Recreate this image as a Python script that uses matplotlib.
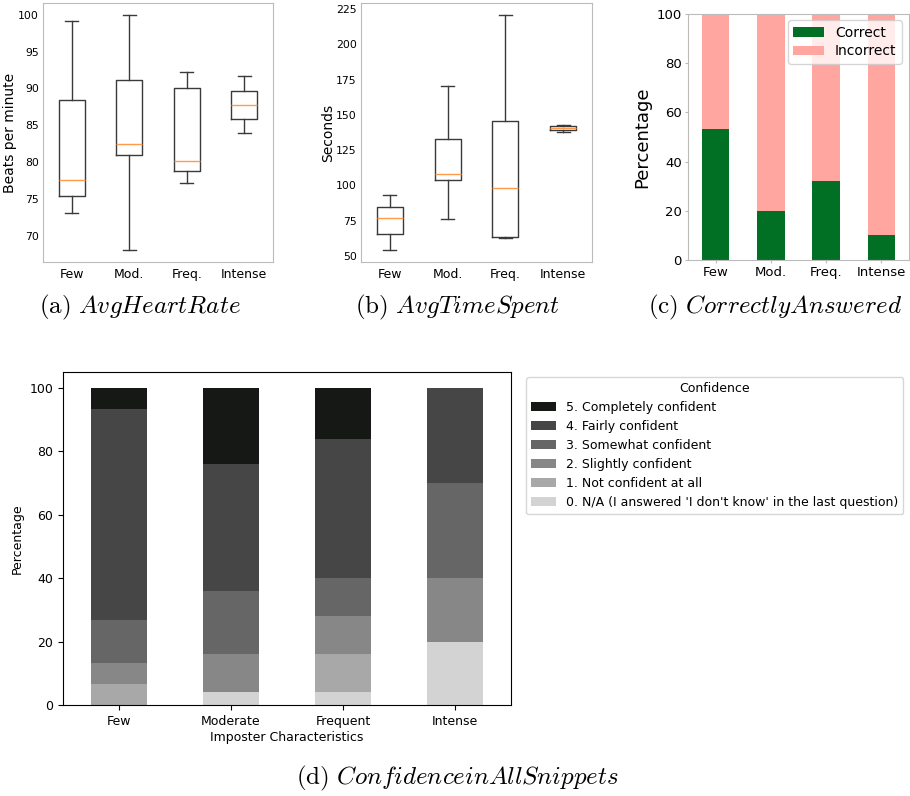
import matplotlib
matplotlib.use("Agg")
import matplotlib.pyplot as plt
import numpy as np

plt.rcParams["mathtext.fontset"] = "cm"

groups_short = ["Few", "Mod.", "Freq.", "Intense"]
groups_long = ["Few", "Moderate", "Frequent", "Intense"]

# box stats: low whisker, q1, median, q3, high whisker
heart_lo = [73.1, 68.0, 77.2, 83.9]
heart_q1 = [75.4, 80.9, 78.7, 85.9]
heart_med = [77.6, 82.4, 80.1, 87.8]
heart_q3 = [88.4, 91.1, 90.0, 89.7]
heart_hi = [99.2, 100.0, 92.2, 91.7]

time_lo = [54.0, 76.0, 62.5, 137.7]
time_q1 = [65.2, 103.6, 63.5, 139.1]
time_med = [76.7, 107.9, 98.4, 140.5]
time_q3 = [84.9, 133.2, 145.9, 142.0]
time_hi = [93.3, 170.7, 221.0, 143.0]

correct = [53.33, 20.0, 32.0, 10.0]
incorrect = [100 - c for c in correct]

conf_labels = ["0. N/A (I answered 'I don't know' in the last question)",
               "1. Not confident at all", "2. Slightly confident",
               "3. Somewhat confident", "4. Fairly confident",
               "5. Completely confident"]
conf_colors = ["#d3d3d3", "#a8a8a8", "#878787", "#666666", "#464646", "#161816"]
conf_na = [0.0, 4.0, 4.0, 20.0]
conf_1 = [6.67, 0.0, 12.0, 0.0]
conf_2 = [6.67, 12.0, 12.0, 20.0]
conf_3 = [13.33, 20.0, 12.0, 30.0]
conf_4 = [66.67, 40.0, 44.0, 30.0]
conf_5 = [6.67, 24.0, 16.0, 0.0]

W, H = 910, 796
fig = plt.figure(figsize=(W / 100, H / 100), dpi=100)


def px_axes(left, top, right, bottom):
    return fig.add_axes([left / W, 1 - bottom / H, (right - left) / W, (bottom - top) / H])


def stats(lo, q1, med, q3, hi):
    return [dict(whislo=a, q1=b, med=c, q3=d, whishi=e, fliers=[])
            for a, b, c, d, e in zip(lo, q1, med, q3, hi)]


def box_panel(ax, st, ylabel):
    ax.bxp(st, positions=[1, 2, 3, 4], widths=0.45, showfliers=False,
           boxprops=dict(color="#3a3a3a", lw=1.0),
           whiskerprops=dict(color="#3a3a3a", lw=1.0),
           capprops=dict(color="#3a3a3a", lw=1.0),
           medianprops=dict(color="#ff9a4a", lw=1.0))
    ax.set_xticks([1, 2, 3, 4])
    ax.set_xticklabels(groups_short, fontsize=9)
    ax.tick_params(axis="y", labelsize=7.8, length=0, pad=3)
    ax.tick_params(axis="x", length=0, pad=4)
    ax.set_ylabel(ylabel, fontsize=10)
    ax.yaxis.set_label_coords(-0.113, 0.5)
    for s in ax.spines.values():
        s.set_color("#bbbbbb")


ax_a = px_axes(43, 3, 273, 262)
box_panel(ax_a, stats(heart_lo, heart_q1, heart_med, heart_q3, heart_hi), "Beats per minute")
ax_a.set_yticks([70, 75, 80, 85, 90, 95, 100])

ax_b = px_axes(361, 3, 592, 262)
box_panel(ax_b, stats(time_lo, time_q1, time_med, time_q3, time_hi), "Seconds")
ax_b.set_yticks([50, 75, 100, 125, 150, 175, 200, 225])

# (c) correctly answered
ax_c = px_axes(688, 14, 909, 260)
xc = np.arange(len(groups_short))
ax_c.bar(xc, correct, 0.5, color="#027024", label="Correct")
ax_c.bar(xc, incorrect, 0.5, bottom=correct, color="#ffa6a1", label="Incorrect")
ax_c.set_xlim(-0.5, 3.5)
ax_c.set_ylim(0, 100)
ax_c.set_xticks(xc)
ax_c.set_xticklabels(groups_short, fontsize=9.5)
ax_c.tick_params(labelsize=9.5, length=2.5, color="#bbbbbb", pad=2)
ax_c.set_ylabel("Percentage", fontsize=13)
for s in ax_c.spines.values():
    s.set_color("#bbbbbb")
ax_c.legend(loc="upper right", bbox_to_anchor=(902 / W, 1 - 20 / H),
            bbox_transform=fig.transFigure, borderaxespad=0, fontsize=10,
            handlelength=2.2, labelspacing=0.35)

# (d) confidence
ax_d = px_axes(63, 372, 511, 705)
xd = np.arange(len(groups_long))
layers = [conf_na, conf_1, conf_2, conf_3, conf_4, conf_5]
bottom = np.zeros(len(groups_long))
handles = []
for vals, col, lab in zip(layers, conf_colors, conf_labels):
    h = ax_d.bar(xd, vals, 0.5, bottom=bottom, color=col, label=lab)
    handles.append(h)
    bottom += np.array(vals)
ax_d.set_xlim(-0.5, 3.5)
ax_d.set_xticks(xd)
ax_d.set_xticklabels(groups_long)
ax_d.tick_params(labelsize=9)
ax_d.set_xlabel("Imposter Characteristics", fontsize=9, labelpad=2)
ax_d.set_ylabel("Percentage", fontsize=9)
fig.legend(handles[::-1], conf_labels[::-1], title="Confidence", loc="upper left",
           bbox_to_anchor=(526 / W, 1 - 377 / H), borderaxespad=0, fontsize=9,
           title_fontsize=9, labelspacing=0.48, handlelength=2.0)

# captions
cap_size = 18
fig.text(140 / W, 1 - 307 / H, r"$\mathrm{(a)}\ AvgHeartRate$", ha="center", va="center", fontsize=cap_size)
fig.text(457 / W, 1 - 307 / H, r"$\mathrm{(b)}\ AvgTimeSpent$", ha="center", va="center", fontsize=cap_size)
fig.text(775 / W, 1 - 307 / H, r"$\mathrm{(c)}\ CorrectlyAnswered$", ha="center", va="center", fontsize=cap_size)
fig.text(457 / W, 1 - 778 / H, r"$\mathrm{(d)}\ ConfidenceinAllSnippets$", ha="center", va="center", fontsize=cap_size)

fig.savefig("out.png", dpi=100)
